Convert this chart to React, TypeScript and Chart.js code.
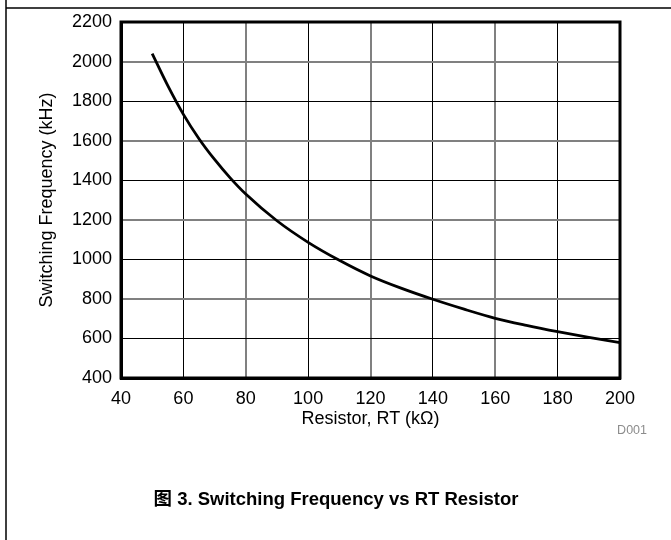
import React, { useEffect, useRef } from "react";
import { Chart, registerables } from "chart.js";

Chart.register(...registerables);

const resistorKOhm = [50, 55, 60, 65, 70, 75, 80, 90, 100, 110, 120, 130, 140, 150, 160, 170, 180, 190, 200];
const frequencyKHz = [2040, 1878, 1733, 1610, 1505, 1412, 1330, 1195, 1086, 995, 916, 853, 798, 748, 702, 666, 634, 605, 579];
const xTicks = [40, 60, 80, 100, 120, 140, 160, 180, 200];
const yTicks = [400, 600, 800, 1000, 1200, 1400, 1600, 1800, 2000, 2200];
const grayX = [80, 120, 160];
const grayY = [2000, 1600, 1200, 800];

const xTitle = "Resistor, RT (k\u03A9)";
const yTitle = "Switching Frequency (kHz)";
const caption = "\u56FE 3. Switching Frequency vs RT Resistor";
const codeLabel = "D001";

const FONT = "'Liberation Sans', Arial, 'Noto Sans CJK SC', sans-serif";

export default function App() {
  const ref = useRef<HTMLCanvasElement | null>(null);

  useEffect(() => {
    if (!ref.current) return;
    const decor = {
      id: "decor",
      afterDraw(chart: any) {
        const ctx = chart.ctx as CanvasRenderingContext2D;
        const a = chart.chartArea;
        ctx.save();
        ctx.strokeStyle = "#000";
        ctx.lineWidth = 3;
        ctx.strokeRect(a.left, a.top, a.right - a.left, a.bottom - a.top);
        ctx.lineWidth = 1.5;
        ctx.beginPath();
        ctx.moveTo(6, 0);
        ctx.lineTo(6, 540);
        ctx.moveTo(6, 8);
        ctx.lineTo(671, 8);
        ctx.stroke();
        ctx.fillStyle = "#000";
        ctx.font = `18px ${FONT}`;
        ctx.textAlign = "center";
        ctx.textBaseline = "middle";
        ctx.fillText(xTitle, (a.left + a.right) / 2, 419);
        ctx.save();
        ctx.translate(47, (a.top + a.bottom) / 2);
        ctx.rotate(-Math.PI / 2);
        ctx.fillText(yTitle, 0, 0);
        ctx.restore();
        ctx.fillStyle = "#8c8c8c";
        ctx.font = `12.5px ${FONT}`;
        ctx.textAlign = "right";
        ctx.fillText(codeLabel, 647, 431);
        ctx.fillStyle = "#000";
        ctx.font = `bold 18.5px ${FONT}`;
        ctx.textAlign = "center";
        ctx.fillText(caption, 336, 500);
        ctx.restore();
      },
    };

    const chart = new Chart(ref.current, {
      type: "line",
      data: {
        datasets: [
          {
            data: resistorKOhm.map((x, i) => ({ x, y: frequencyKHz[i] })),
            borderColor: "#000",
            borderWidth: 2.8,
            pointRadius: 0,
            cubicInterpolationMode: "monotone",
            fill: false,
          },
        ],
      },
      options: {
        animation: false,
        responsive: false,
        devicePixelRatio: 1,
        layout: { padding: { left: 0, top: 22, right: 51, bottom: 0 } },
        plugins: { legend: { display: false }, tooltip: { enabled: false }, title: { display: false } },
        scales: {
          x: {
            type: "linear",
            min: 40,
            max: 200,
            afterBuildTicks: (s: any) => {
              s.ticks = xTicks.map((v) => ({ value: v }));
            },
            afterFit: (s: any) => {
              s.height = 162;
            },
            ticks: {
              color: "#000",
              font: { size: 18, family: FONT },
              padding: 10,
              maxRotation: 0,
              callback: (v: any) => String(v),
            },
            grid: {
              drawTicks: false,
              color: (c: any) => (grayX.includes(c.tick?.value) ? "#808080" : "#000"),
              lineWidth: (c: any) => (grayX.includes(c.tick?.value) ? 2 : 1),
            },
            border: { display: true, color: "#000", width: 3 },
          },
          y: {
            type: "linear",
            min: 400,
            max: 2200,
            afterBuildTicks: (s: any) => {
              s.ticks = yTicks.map((v) => ({ value: v }));
            },
            afterFit: (s: any) => {
              s.width = 121;
            },
            ticks: {
              color: "#000",
              font: { size: 18, family: FONT },
              padding: 9,
              callback: (v: any) => String(v),
            },
            grid: {
              drawTicks: false,
              color: (c: any) => (grayY.includes(c.tick?.value) ? "#808080" : "#000"),
              lineWidth: (c: any) => (grayY.includes(c.tick?.value) ? 2 : 1),
            },
            border: { display: true, color: "#000", width: 3 },
          },
        },
      },
      plugins: [decor],
    } as any);
    return () => chart.destroy();
  }, []);

  return (
    <div style={{ position: "absolute", left: 0, top: 0, width: 671, height: 540, background: "#fff" }}>
      <canvas ref={ref} width={671} height={540} style={{ width: 671, height: 540, display: "block" }} />
    </div>
  );
}
